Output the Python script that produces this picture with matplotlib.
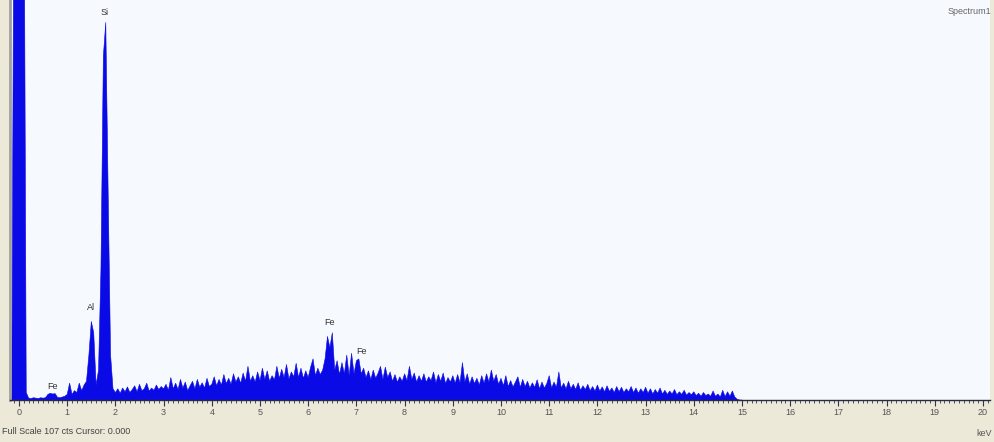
import numpy as np
import matplotlib
matplotlib.use("Agg")
import matplotlib.pyplot as plt
from matplotlib.ticker import MultipleLocator

e_start = -0.20
e_step = 0.05

counts_low = [  # -0.20 .. 1.95 keV
    0.0, 1.0, 160, 200,
    200, 200, 160, 2.0,
    0.5, 0.4, 0.6, 0.5, 0.4, 0.6, 0.5, 0.6,
    1.5, 1.8, 1.6, 1.7, 0.7, 0.6, 0.8, 1.0,
    1.5, 4.5, 1.5, 2.5, 2.0, 4.5, 2.5, 4.0,
    5.0, 12.0, 21.0, 18.0, 4.0, 8.0, 35.0, 92.0,
    101.0, 55.0, 12.0, 3.0,
]
counts_2_5 = [  # 2.00 .. 4.95 keV
    2.0, 3.0, 1.8, 3.2, 2.2, 3.5, 2.0, 2.8, 3.8, 2.2,
    4.2, 2.5, 3.0, 4.5, 2.4, 3.2, 2.6, 4.0, 2.8, 3.6,
    3.0, 4.2, 2.6, 6.0, 3.0, 4.5, 2.8, 5.5, 3.2, 4.8,
    2.5, 3.8, 5.0, 3.0, 5.5, 3.4, 4.6, 3.2, 5.8, 3.6,
    4.2, 6.2, 3.8, 5.5, 4.0, 6.8, 4.4, 5.8, 4.2, 7.0,
    4.8, 6.2, 4.5, 7.2, 5.0, 9.0, 5.0, 6.5, 4.8, 7.5,
]
counts_5_8 = [  # 5.00 .. 7.95 keV
    5.2, 8.5, 5.5, 7.8, 5.0, 6.5, 5.4, 9.0, 5.8, 8.2,
    6.0, 9.5, 5.6, 7.5, 6.2, 9.8, 6.0, 8.5, 5.8, 7.8,
    6.0, 8.8, 11.0, 6.5, 8.5, 6.8, 8.0, 11.0, 17.0, 14.0,
    18.0, 8.0, 10.5, 6.8, 10.0, 7.0, 12.0, 6.5, 12.5, 7.0,
    10.5, 11.0, 7.0, 8.5, 6.0, 7.8, 5.5, 8.0, 5.8, 7.2,
    9.0, 5.5, 8.8, 6.0, 7.5, 5.0, 6.8, 4.8, 6.2, 5.0,
]
counts_8_11 = [  # 8.00 .. 10.95 keV
    7.0, 5.2, 9.0, 5.5, 7.2, 4.8, 6.5, 5.0, 7.0, 4.8,
    6.2, 5.2, 7.5, 4.6, 6.8, 5.0, 7.2, 4.4, 6.0, 4.8,
    6.5, 4.5, 6.8, 4.6, 10.0, 4.8, 7.0, 4.2, 6.2, 4.4,
    5.8, 4.0, 6.5, 4.5, 7.0, 4.8, 8.0, 5.0, 6.8, 4.2,
    5.8, 3.8, 6.5, 3.6, 5.2, 3.5, 4.8, 6.2, 3.4, 5.5,
    3.6, 5.0, 3.2, 4.6, 3.4, 5.4, 3.0, 4.8, 3.2, 4.4,
]
counts_11_15 = [  # 11.00 .. 15.00 keV
    6.5, 3.2, 4.8, 3.4, 7.5, 3.2, 4.5, 3.0, 5.0, 3.0,
    4.2, 2.8, 4.6, 2.6, 3.8, 2.8, 4.2, 2.5, 3.6, 2.4,
    4.0, 2.4, 3.5, 2.2, 3.8, 2.3, 3.2, 2.0, 3.6, 2.2,
    3.4, 2.0, 3.0, 2.2, 3.6, 2.0, 3.2, 1.8, 3.0, 2.0,
    3.4, 1.8, 3.0, 1.6, 2.8, 1.8, 3.2, 1.6, 2.6, 1.5,
    2.4, 1.6, 2.8, 1.4, 2.2, 1.5, 2.6, 1.3, 2.0, 1.4,
    2.2, 1.2, 1.8, 1.0, 2.0, 1.2, 1.6, 1.0, 2.4, 1.0,
    1.6, 0.8, 2.6, 0.9, 2.2, 1.0, 2.4, 0.8, 0.2, 0.0,
    0.0,
]
counts = np.array(counts_low + counts_2_5 + counts_5_8 + counts_8_11 + counts_11_15)
energy = e_start + e_step * np.arange(len(counts))

peak_labels = ["Fe", "Al", "Si", "Fe", "Fe"]
peak_x = [0.70, 1.50, 1.78, 6.45, 7.10]
peak_y = [2.5, 23.5, 102.5, 19.5, 11.8]

tick_values = list(range(0, 21))
tick_labels = [str(v) for v in tick_values]
full_scale = 107

# ---- figure ----
W, H = 995, 442
fig = plt.figure(figsize=(W / 100, H / 100), dpi=100, facecolor="#ECE9D8")
ax = fig.add_axes([10 / W, 42 / H, 980 / W, 400 / H])
ax.set_facecolor("#F6F9FD")

blue = "#0A0AE6"
ax.fill_between(energy, counts, 0, color=blue, lw=0)
ax.plot(energy, counts, color=blue, lw=0.4)

ax.set_xlim(-0.187, 20.145)
ax.set_ylim(0, full_scale)

for lab, x, y in zip(peak_labels, peak_x, peak_y):
    ax.text(x, y, lab, ha="center", va="bottom", fontsize=6.5,
            color="#333333", family="Liberation Sans")

ax.set_xticks(tick_values)
ax.set_xticklabels(tick_labels)
ax.xaxis.set_minor_locator(MultipleLocator(0.1))
ax.tick_params(axis="x", which="major", direction="out", length=4, width=0.8,
               color="#333355", labelsize=6.5, labelcolor="#555555", pad=2)
ax.tick_params(axis="x", which="minor", direction="out", length=2.5, width=0.6,
               color="#333355")
for lbl in ax.get_xticklabels():
    lbl.set_family("Liberation Sans")
ax.set_yticks([])
for s in ["top", "right"]:
    ax.spines[s].set_visible(False)
ax.spines["bottom"].set_color("#2A2A40")
ax.spines["bottom"].set_linewidth(1.0)
ax.spines["left"].set_color("#A0A0A0")
ax.spines["left"].set_linewidth(2.0)

fig.text(2 / W, 1 - 432 / H, f"Full Scale {full_scale} cts Cursor: 0.000",
         fontsize=6.5, color="#444444", va="center", ha="left",
         family="Liberation Sans")
fig.text(992 / W, 1 - 433 / H, "keV", fontsize=6.5, color="#555555",
         va="center", ha="right", family="Liberation Sans")
fig.text(948 / W, 1 - 11 / H, "Spectrum1", fontsize=6.5, color="#666666",
         va="center", ha="left", family="Liberation Sans")

fig.savefig("out.png", dpi=100, facecolor=fig.get_facecolor())
